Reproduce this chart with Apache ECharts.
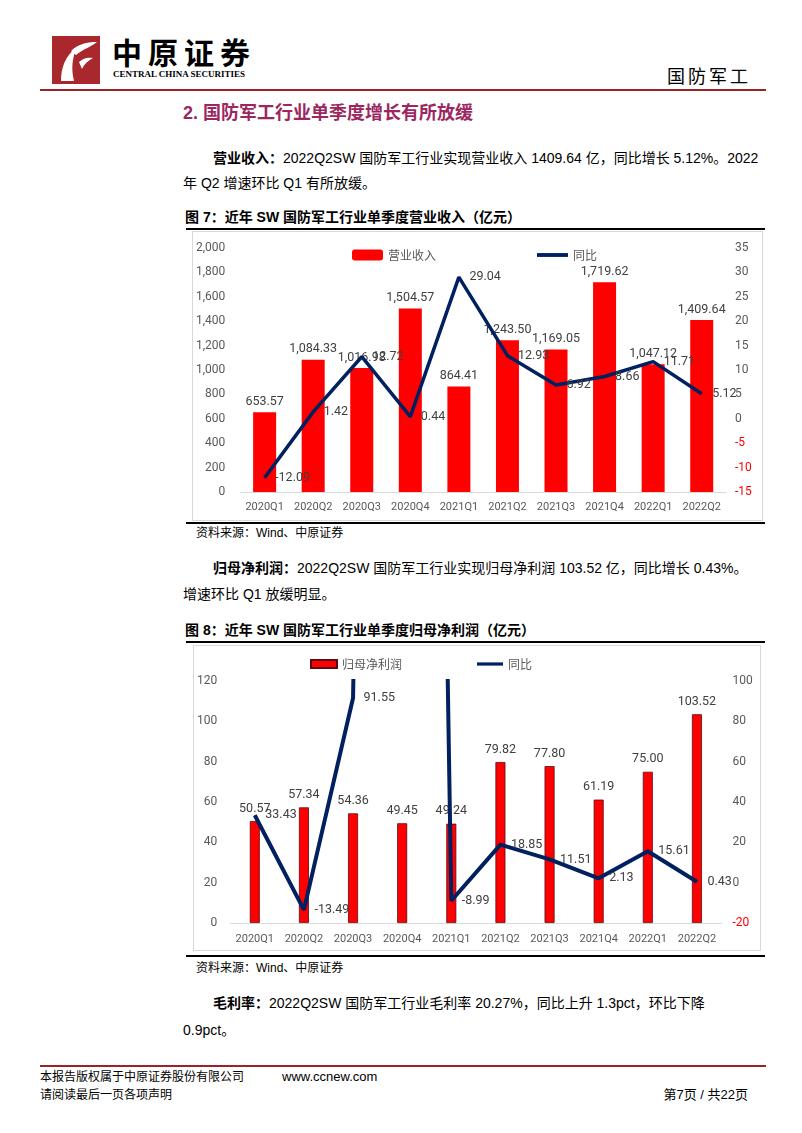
<!DOCTYPE html>
<html>
<head>
<meta charset="utf-8">
<script src="https://cdn.jsdelivr.net/npm/echarts@6/dist/echarts.min.js"></script>
<style>
  body { margin: 0; width: 802px; height: 1133px; position: relative; overflow: hidden; background: #fff;
         font-family: "Liberation Sans", "Noto Sans CJK SC", sans-serif; color: #000; }
  .t { position: absolute; white-space: nowrap; }
  .rule { position: absolute; }
  .p { font-size: 14px; line-height: 20px; }
  .fig { font-size: 14px; line-height: 20px; font-weight: bold; }
  .src { font-size: 12px; line-height: 16px; }
  .chart { position: absolute; outline: 1px solid #d9d9d9; }
</style>
</head>
<body>

<!-- header -->
<svg class="t" style="left:52px;top:36px" width="48" height="48">
  <rect width="48" height="48" fill="#a8282d"/>
  <path d="M9 45 C9 32 13 20 25 11 C20 22 19 33 22 45 Z" fill="#fff"/>
  <path d="M19 15 C27 7 37 6 45 6 C39 11 31 13 24 19 Z" fill="#fff"/>
  <path d="M27 26 C31 22 36 21 41 22 C36 25 32 28 30 33 Z" fill="#fff"/>
</svg>
<div class="t" style="left:112px;top:34px;font-size:30px;line-height:34px;letter-spacing:6px;font-weight:bold;font-family:'Noto Sans CJK SC'">中原证券</div>
<div class="t" style="left:113px;top:68px;font-size:9px;line-height:12px;font-weight:bold;font-family:'Liberation Serif',serif">CENTRAL CHINA SECURITIES</div>
<div class="t" style="left:667px;top:64px;font-size:18px;line-height:22px;letter-spacing:3px;font-family:'Noto Sans CJK SC'">国防军工</div>
<div class="rule" style="left:40px;top:89px;width:726px;height:2px;background:#9b2226"></div>

<!-- section title -->
<div class="t" style="left:183px;top:102px;font-size:18px;line-height:22px;font-weight:bold;color:#9c2760">2. 国防军工行业单季度增长有所放缓</div>

<div class="t p" style="left:213px;top:148px"><b>营业收入：</b>2022Q2SW 国防军工行业实现营业收入 1409.64 亿，同比增长 5.12%。2022</div>
<div class="t p" style="left:183px;top:173px">年 Q2 增速环比 Q1 有所放缓。</div>

<div class="t fig" style="left:185px;top:207px">图 7：近年 SW 国防军工行业单季度营业收入（亿元）</div>
<div class="rule" style="left:186px;top:228px;width:579px;height:2px;background:#000"></div>
<div id="chart1" class="chart" style="left:193px;top:232px;width:569px;height:288px"></div>
<div class="rule" style="left:186px;top:522px;width:579px;height:2px;background:#000"></div>
<div class="t src" style="left:196px;top:525px">资料来源：Wind、中原证券</div>

<div class="t p" style="left:213px;top:558px"><b>归母净利润：</b>2022Q2SW 国防军工行业实现归母净利润 103.52 亿，同比增长 0.43%。</div>
<div class="t p" style="left:183px;top:584px">增速环比 Q1 放缓明显。</div>

<div class="t fig" style="left:185px;top:620px">图 8：近年 SW 国防军工行业单季度归母净利润（亿元）</div>
<div class="rule" style="left:186px;top:641px;width:579px;height:2px;background:#000"></div>
<div id="chart2" class="chart" style="left:194px;top:646px;width:566px;height:304px"></div>
<div class="rule" style="left:186px;top:955px;width:579px;height:2px;background:#000"></div>
<div class="t src" style="left:196px;top:960px">资料来源：Wind、中原证券</div>

<div class="t p" style="left:213px;top:993px"><b>毛利率：</b>2022Q2SW 国防军工行业毛利率 20.27%，同比上升 1.3pct，环比下降</div>
<div class="t p" style="left:183px;top:1020px">0.9pct。</div>

<!-- footer -->
<div class="rule" style="left:40px;top:1065px;width:726px;height:2px;background:#9b2226"></div>
<div class="t" style="left:40px;top:1069px;font-size:12px;line-height:16px">本报告版权属于中原证券股份有限公司</div>
<div class="t" style="left:282px;top:1069px;font-size:13px;line-height:16px">www.ccnew.com</div>
<div class="t" style="left:40px;top:1087px;font-size:12px;line-height:16px">请阅读最后一页各项声明</div>
<div class="t" style="right:54px;top:1087px;font-size:13px;line-height:16px">第7页 / 共22页</div>

<script>
// 数据
var quarters = ['2020Q1', '2020Q2', '2020Q3', '2020Q4', '2021Q1', '2021Q2', '2021Q3', '2021Q4', '2022Q1', '2022Q2'];
var revenue = [653.57, 1084.33, 1016.98, 1504.57, 864.41, 1243.50, 1169.05, 1719.62, 1047.12, 1409.64];
var revenueYoY = [-12.09, 1.42, 12.72, 0.44, 29.04, 12.93, 6.92, 8.66, 11.71, 5.12];
var profit = [50.57, 57.34, 54.36, 49.45, 49.24, 79.82, 77.80, 61.19, 75.00, 103.52];
// 2020Q4 同比超出坐标范围（图中未标注），估计值
var profitYoY = [33.43, -13.49, 91.55, 1500, -8.99, 18.85, 11.51, 2.13, 15.61, 0.43];

var RED = '#ff0000';
var NAVY = '#002060';
var GRAY = '#595959';
var LBL = '#404040';
var NUMFONT = 'Roboto';
var LINE_ICON = 'path://M0 0H32V4H0Z';

function fmt(v) {
  var s = v.toFixed(2).split('.');
  return s[0].replace(/\B(?=(\d{3})+(?!\d))/g, ',') + '.' + s[1];
}
function fmtInt(v) {
  return String(v).replace(/\B(?=(\d{3})+(?!\d))/g, ',');
}
function rightColor(v) {
  return Number(v) < 0 ? RED : GRAY;
}

var chart1 = echarts.init(document.getElementById('chart1'));
chart1.setOption({
  animation: false,
  grid: { left: 45, right: 36, top: 16, bottom: 28 },
  legend: {
    left: 159, top: 17, padding: 0, itemWidth: 31, itemHeight: 11, itemGap: 101,
    textStyle: { color: GRAY, fontSize: 12, fontFamily: 'Noto Sans CJK SC' },
    data: [{ name: '营业收入', icon: 'roundRect' }, { name: '同比', icon: LINE_ICON }]
  },
  xAxis: {
    type: 'category',
    data: quarters,
    axisLine: { lineStyle: { color: '#d9d9d9' } },
    axisTick: { show: false },
    axisLabel: { color: GRAY, fontSize: 11, fontFamily: NUMFONT, margin: 10, interval: 0 }
  },
  yAxis: [
    {
      type: 'value', min: 0, max: 2000, interval: 200,
      axisLine: { show: false }, axisTick: { show: false }, splitLine: { show: false },
      axisLabel: { color: GRAY, fontSize: 12, fontFamily: NUMFONT, margin: 15, formatter: fmtInt }
    },
    {
      type: 'value', min: -15, max: 35, interval: 5,
      axisLine: { show: false }, axisTick: { show: false }, splitLine: { show: false },
      axisLabel: { color: rightColor, fontSize: 12, fontFamily: NUMFONT, margin: 9 }
    }
  ],
  series: [
    {
      name: '营业收入', type: 'bar', data: revenue, barWidth: 23,
      itemStyle: { color: RED },
      label: { show: true, position: 'top', distance: 4, color: LBL, fontSize: 12.5, fontFamily: NUMFONT, formatter: function (p) { return fmt(p.value); } }
    },
    {
      name: '同比', type: 'line', yAxisIndex: 1, data: revenueYoY,
      symbol: 'circle', symbolSize: 1, showSymbol: true,
      lineStyle: { color: NAVY, width: 3.5 }, itemStyle: { color: NAVY },
      label: { show: true, position: 'right', distance: 10, color: LBL, fontSize: 12.5, fontFamily: NUMFONT, formatter: function (p) { return p.value.toFixed(2); } }
    }
  ]
});

var chart2 = echarts.init(document.getElementById('chart2'));
chart2.setOption({
  animation: false,
  grid: { left: 34.5, right: 38.5, top: 35, bottom: 27 },
  legend: {
    left: 116, top: 12, padding: 0, itemWidth: 26, itemHeight: 8, itemGap: 75,
    textStyle: { color: GRAY, fontSize: 12, fontFamily: 'Noto Sans CJK SC' },
    data: [{ name: '归母净利润', icon: 'rect' }, { name: '同比', icon: LINE_ICON }]
  },
  xAxis: {
    type: 'category',
    data: quarters,
    axisLine: { lineStyle: { color: '#d9d9d9' } },
    axisTick: { show: false },
    axisLabel: { color: GRAY, fontSize: 11, fontFamily: NUMFONT, margin: 11, interval: 0 }
  },
  yAxis: [
    {
      type: 'value', min: 0, max: 120, interval: 20,
      axisLine: { show: false }, axisTick: { show: false }, splitLine: { show: false },
      axisLabel: { color: GRAY, fontSize: 12, fontFamily: NUMFONT, margin: 13 }
    },
    {
      type: 'value', min: -20, max: 100, interval: 20,
      axisLine: { show: false }, axisTick: { show: false }, splitLine: { show: false },
      axisLabel: { color: rightColor, fontSize: 12, fontFamily: NUMFONT, margin: 11 }
    }
  ],
  series: [
    {
      name: '归母净利润', type: 'bar', data: profit, barWidth: 10,
      itemStyle: { color: RED, borderColor: '#5a0a14', borderWidth: 0.8 },
      label: { show: true, position: 'top', distance: 6, color: LBL, fontSize: 12.5, fontFamily: NUMFONT, formatter: function (p) { return fmt(p.value); } }
    },
    {
      name: '同比', type: 'line', yAxisIndex: 1, clip: true,
      data: profitYoY.map(function (v, i) {
        return i === 3 ? { value: v, label: { show: false } } : v;
      }),
      symbol: 'circle', symbolSize: 1, showSymbol: true,
      lineStyle: { color: NAVY, width: 4 }, itemStyle: { color: NAVY },
      label: { show: true, position: 'right', distance: 10, color: LBL, fontSize: 12.5, fontFamily: NUMFONT, formatter: function (p) { return p.value.toFixed(2); } }
    }
  ]
});
</script>
</body>
</html>
